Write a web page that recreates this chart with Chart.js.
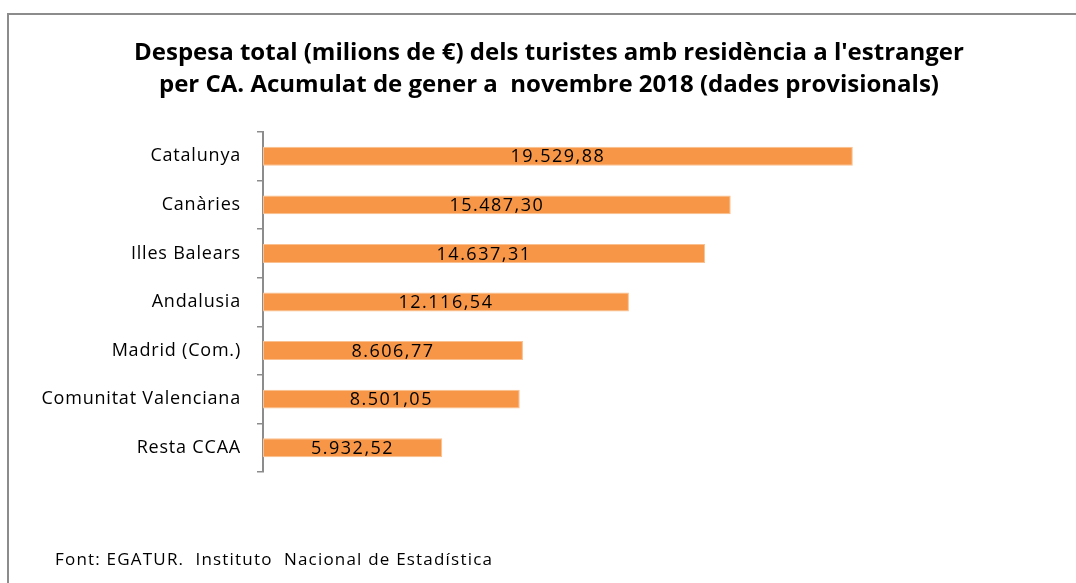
<!DOCTYPE html>
<html>
<head>
<meta charset="utf-8">
<script src="https://cdn.jsdelivr.net/npm/chart.js@4/dist/chart.umd.min.js"></script>
<style>
  html, body { margin: 0; padding: 0; background: #fff; }
  #wrap { position: relative; width: 1076px; height: 583px; overflow: hidden; }
  #frame { position: absolute; left: 7px; top: 13px; width: 1200px; height: 700px;
           border-top: 2px solid #8c8c8c; border-left: 2px solid #8c8c8c; box-sizing: border-box; }
  #footer { position: absolute; left: 55px; top: 547px; font-family: "Open Sans", sans-serif;
            font-size: 17px; letter-spacing: 1.2px; color: #000; white-space: pre; }
  canvas { position: absolute; left: 0; top: 0; }
</style>
</head>
<body>
<div id="wrap">
  <div id="frame"></div>
  <canvas id="c" width="1076" height="583"></canvas>
  <div id="footer">Font: EGATUR.  Instituto  Nacional de Estadística</div>
</div>
<script>
const categories = ["Catalunya", "Canàries", "Illes Balears", "Andalusia", "Madrid (Com.)", "Comunitat Valenciana", "Resta CCAA"];
const despesa = [19529.88, 15487.30, 14637.31, 12116.54, 8606.77, 8501.05, 5932.52];
const titleLines = ["Despesa total (milions de €) dels turistes amb residència a l'estranger",
                    "per CA. Acumulat de gener a  novembre 2018 (dades provisionals)"];

function fmt(v) {
  const parts = v.toFixed(2).split(".");
  const intPart = parts[0].replace(/\B(?=(\d{3})+(?!\d))/g, ".");
  return intPart + "," + parts[1];
}

const titlePlugin = {
  id: "titleText",
  beforeDraw(chart) {
    const ctx = chart.ctx;
    ctx.save();
    ctx.letterSpacing = "0px";
    ctx.font = "bold 24px 'Open Sans', sans-serif";
    ctx.fillStyle = "#000";
    ctx.textAlign = "center";
    ctx.textBaseline = "alphabetic";
    ctx.fillText(titleLines[0], 549, 60);
    ctx.fillText(titleLines[1], 549, 92);
    ctx.restore();
    ctx.letterSpacing = "0.8px";
  },
  afterDraw(chart) {
    chart.ctx.letterSpacing = "0px";
  }
};

const labelPlugin = {
  id: "barLabels",
  afterDatasetsDraw(chart) {
    const ctx = chart.ctx;
    const meta = chart.getDatasetMeta(0);
    ctx.save();
    ctx.font = "18px 'Open Sans', sans-serif";
    ctx.letterSpacing = "1.5px";
    ctx.fillStyle = "#000";
    ctx.textAlign = "center";
    ctx.textBaseline = "middle";
    meta.data.forEach((bar, i) => {
      const x = (bar.x + bar.base) / 2;
      ctx.fillText(fmt(despesa[i]), x, bar.y + 1);
    });
    ctx.restore();
  }
};

new Chart(document.getElementById("c"), {
  type: "bar",
  data: {
    labels: categories,
    datasets: [{
      data: despesa,
      backgroundColor: "#F79646",
      borderColor: "#FBC08F",
      borderWidth: 1,
      borderSkipped: false,
      barPercentage: 0.39,
      categoryPercentage: 1
    }]
  },
  options: {
    indexAxis: "y",
    responsive: false,
    animation: false,
    layout: { padding: { left: 10, right: 58, top: 132, bottom: 111 } },
    plugins: {
      legend: { display: false },
      tooltip: { enabled: false },
      title: { display: false }
    },
    scales: {
      x: { display: false, min: 0, max: 25000 },
      y: {
        afterFit(scale) { scale.width = 253; },
        border: { display: true, color: "#8c8c8c", width: 2 },
        grid: { display: true, drawOnChartArea: false, drawTicks: true, tickLength: 6, color: "#8c8c8c", lineWidth: 1.5, offset: true },
        ticks: { color: "#000", padding: 16, font: { family: "'Open Sans', sans-serif", size: 18 } }
      }
    }
  },
  plugins: [titlePlugin, labelPlugin]
});
</script>
</body>
</html>
